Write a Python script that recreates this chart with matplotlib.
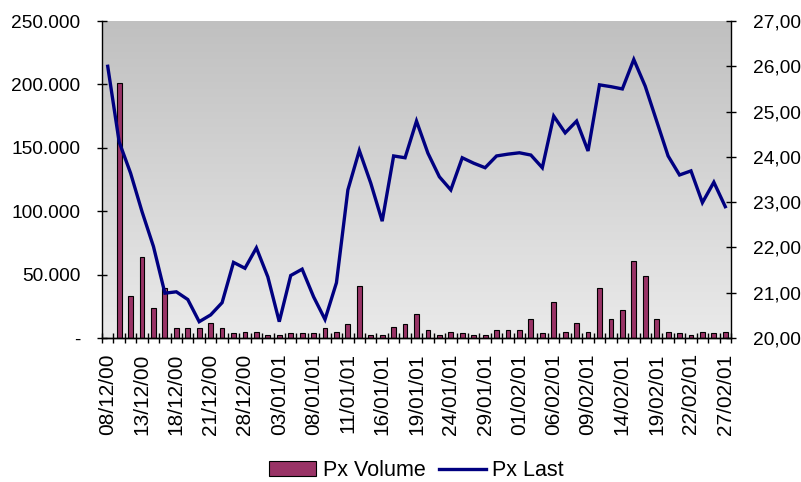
import numpy as np
import matplotlib
matplotlib.use("Agg")
import matplotlib.pyplot as plt
from matplotlib.colors import LinearSegmentedColormap
from matplotlib.patches import Patch
from matplotlib.lines import Line2D
from matplotlib.ticker import FixedLocator, FuncFormatter

plt.rcParams['font.family'] = ['Liberation Sans', 'DejaVu Sans']

dates = ["08/12/00", "11/12/00", "12/12/00", "13/12/00", "14/12/00", "15/12/00", "18/12/00",
         "19/12/00", "20/12/00", "21/12/00", "22/12/00", "27/12/00", "28/12/00", "29/12/00",
         "02/01/01", "03/01/01", "04/01/01", "05/01/01", "08/01/01", "09/01/01", "10/01/01",
         "11/01/01", "12/01/01", "15/01/01", "16/01/01", "17/01/01", "18/01/01", "19/01/01",
         "22/01/01", "23/01/01", "24/01/01", "25/01/01", "26/01/01", "29/01/01", "30/01/01",
         "31/01/01", "01/02/01", "02/02/01", "05/02/01", "06/02/01", "07/02/01", "08/02/01",
         "09/02/01", "12/02/01", "13/02/01", "14/02/01", "15/02/01", "16/02/01", "19/02/01",
         "20/02/01", "21/02/01", "22/02/01", "23/02/01", "26/02/01", "27/02/01"]

px_volume = [0, 201000, 33400, 64100, 23400, 39200, 7600, 7600, 7600, 12100, 7600,
             3700, 5000, 5000, 2400, 2400, 3700, 3700, 3700, 7600, 5000, 10800, 41000,
             2400, 2400, 8900, 10800, 18900, 6300, 2400, 5000, 3700, 2400, 2400, 6300,
             6300, 6300, 14700, 3700, 28100, 5000, 12100, 5000, 39200, 14700, 22100,
             61000, 49100, 14700, 5000, 3700, 2400, 5000, 3700, 5000]

px_last = [26.00, 24.33, 23.64, 22.79, 22.02, 20.99, 21.02, 20.85, 20.36, 20.51, 20.78,
           21.67, 21.54, 21.99, 21.35, 20.36, 21.38, 21.52, 20.91, 20.41, 21.22, 23.27,
           24.14, 23.42, 22.58, 24.02, 23.98, 24.79, 24.08, 23.56, 23.27, 23.98, 23.86,
           23.76, 24.02, 24.06, 24.09, 24.04, 23.76, 24.90, 24.53, 24.79, 24.13, 25.59,
           25.55, 25.50, 26.15, 25.56, 24.79, 24.02, 23.60, 23.69, 22.99, 23.44, 22.90]

left_ticks = [0, 50000, 100000, 150000, 200000, 250000]
right_ticks = [20, 21, 22, 23, 24, 25, 26, 27]
label_step = 3

bar_color = "#993366"
line_color = "#000080"

fig = plt.figure(figsize=(8.01, 4.82), dpi=100)
ax = fig.add_axes([102/801, 1-338/482, 629/801, 317/482])
n = len(dates)
x = np.arange(n)

cmap = LinearSegmentedColormap.from_list("bg", ["#C0C0C0", "#EAEAEA"])
ax.imshow(np.linspace(0, 1, 256).reshape(-1, 1), extent=[-0.5, n-0.5, 0, 250000],
          aspect='auto', cmap=cmap, zorder=0, interpolation='bilinear')
ax.bar(x, px_volume, width=0.42, color=bar_color, edgecolor='black', linewidth=0.8, zorder=2)
ax.set_xlim(-0.5, n-0.5)
ax.set_ylim(0, 250000)
ax.set_yticks(left_ticks)
ax.yaxis.set_major_formatter(FuncFormatter(lambda v, p: "-" if v == 0 else f"{int(v):,}".replace(",", ".")))

ax2 = ax.twinx()
ax2.plot(x, px_last, color=line_color, linewidth=2.4, zorder=3, solid_joinstyle='miter')
ax2.set_ylim(20, 27)
ax2.set_yticks(right_ticks)
ax2.yaxis.set_major_formatter(FuncFormatter(lambda v, p: f"{v:.2f}".replace(".", ",")))
ax2.set_xlim(-0.5, n-0.5)

for a in (ax, ax2):
    a.spines['top'].set_visible(False)
    for s in ('left', 'right', 'bottom'):
        a.spines[s].set_linewidth(1.0)
ax.spines['right'].set_visible(False)
ax2.spines['left'].set_visible(False)

label_pos = list(range(0, n, label_step))
ax.set_xticks(label_pos)
ax.set_xticklabels([dates[i] for i in label_pos], rotation=90, fontsize=15)
ax.xaxis.set_minor_locator(FixedLocator(np.arange(-0.5, n, 1.0)))
ax.tick_params(axis='x', which='major', length=0, pad=11)
ax.tick_params(axis='x', which='minor', direction='inout', length=7, width=1)
ax.tick_params(axis='y', direction='inout', length=7, width=1, labelsize=13.8, pad=12)
ax2.tick_params(axis='y', direction='inout', length=7, width=1, labelsize=13.8, pad=12)

handles = [Patch(facecolor=bar_color, edgecolor='black', linewidth=0.8, label='Px Volume'),
           Line2D([0], [0], color=line_color, linewidth=2.4, label='Px Last')]
fig.legend(handles=handles, loc='lower center', bbox_to_anchor=(0.52, 0.002), ncol=2,
           frameon=False, fontsize=15.5, handlelength=2.2, handleheight=0.7,
           handletextpad=0.3, columnspacing=0.6, borderpad=0.0, borderaxespad=0.0)

fig.savefig("out.png", dpi=100)
